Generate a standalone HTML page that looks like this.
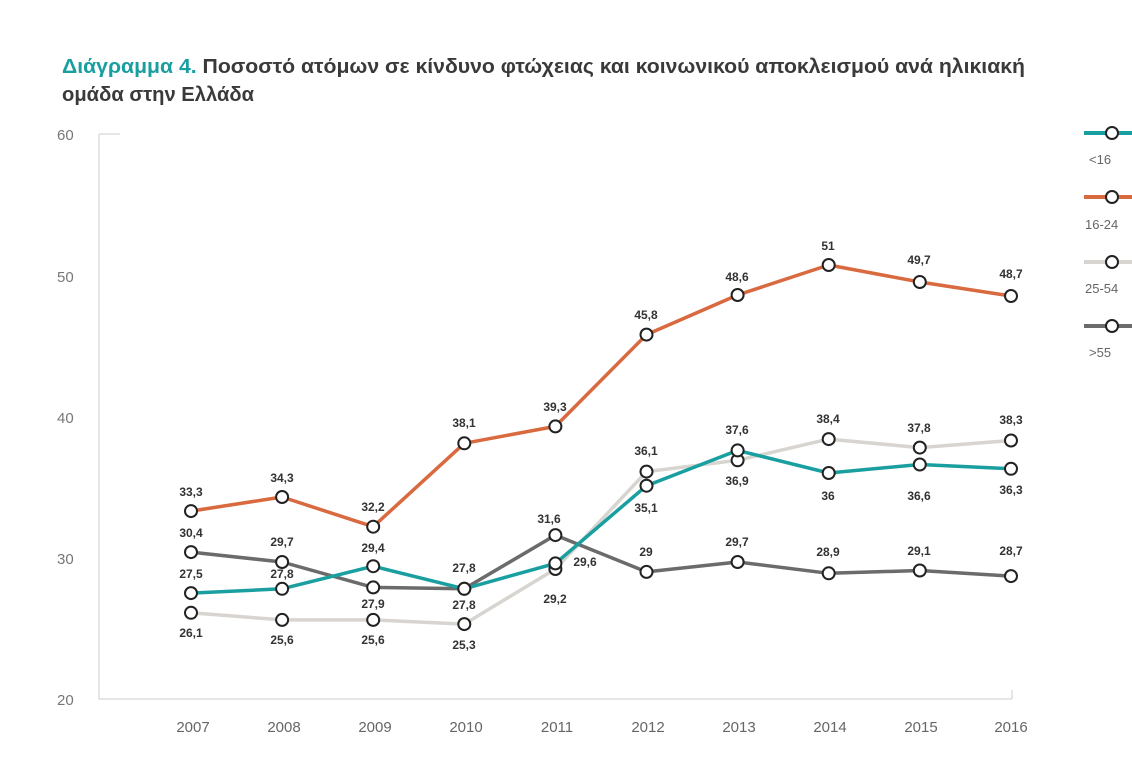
<!DOCTYPE html><html><head><meta charset="utf-8"><style>body{margin:0;background:#fff}svg{display:block}</style></head><body>
<svg width="1132" height="767" xmlns="http://www.w3.org/2000/svg" font-family="Liberation Sans, DejaVu Sans, sans-serif">
<text x="62" y="73" font-size="20" font-weight="bold" fill="#3a3a3a" textLength="963" lengthAdjust="spacingAndGlyphs"><tspan fill="#1a9fa0">Διάγραμμα 4.</tspan> Ποσοστό ατόμων σε κίνδυνο φτώχειας και κοινωνικού αποκλεισμού ανά ηλικιακή</text>
<text x="62" y="101" font-size="20" font-weight="bold" fill="#3a3a3a" textLength="192" lengthAdjust="spacingAndGlyphs">ομάδα στην Ελλάδα</text>
<g stroke="#ccc" stroke-width="1" fill="none"><path d="M99 134V699H1012M99 134H120M1012 699V690"/></g>
<g font-size="15" fill="#777"><text x="57" y="140">60</text><text x="57" y="282">50</text><text x="57" y="423">40</text><text x="57" y="564">30</text><text x="57" y="705">20</text></g>
<g font-size="15" fill="#666" text-anchor="middle"><text x="193" y="732">2007</text><text x="284" y="732">2008</text><text x="375" y="732">2009</text><text x="466" y="732">2010</text><text x="557" y="732">2011</text><text x="648" y="732">2012</text><text x="739" y="732">2013</text><text x="830" y="732">2014</text><text x="921" y="732">2015</text><text x="1011" y="732">2016</text></g>
<g fill="none" stroke-width="3.5" stroke-linejoin="round">
<polyline stroke="#d8d4d0" points="191,612.8 282.1,619.9 373.2,619.9 464.3,624.1 555.4,569 646.5,471.6 737.6,460.3 828.7,439.1 919.8,447.6 1011,440.5"/>
<polyline stroke="#6b6b6b" points="191,552.1 282.1,562 373.2,587.4 464.3,588.8 555.4,535.1 646.5,571.9 737.6,562 828.7,573.3 919.8,570.5 1011,576.1"/>
<polyline stroke="#1a9fa0" points="191,593.1 282.1,588.8 373.2,566.2 464.3,588.8 555.4,563.4 646.5,485.7 737.6,450.4 828.7,473 919.8,464.5 1011,468.8"/>
<polyline stroke="#d9693f" points="191,511.1 282.1,497 373.2,526.7 464.3,443.3 555.4,426.4 646.5,334.6 737.6,295 828.7,265 919.8,282 1011,296"/>
</g>
<g fill="#fff" stroke="#222" stroke-width="2">
<circle cx="191" cy="612.8" r="6"/><circle cx="282.1" cy="619.9" r="6"/><circle cx="373.2" cy="619.9" r="6"/><circle cx="464.3" cy="624.1" r="6"/><circle cx="555.4" cy="569" r="6"/><circle cx="646.5" cy="471.6" r="6"/><circle cx="737.6" cy="460.3" r="6"/><circle cx="828.7" cy="439.1" r="6"/><circle cx="919.8" cy="447.6" r="6"/><circle cx="1011" cy="440.5" r="6"/>
<circle cx="191" cy="552.1" r="6"/><circle cx="282.1" cy="562" r="6"/><circle cx="373.2" cy="587.4" r="6"/><circle cx="464.3" cy="588.8" r="6"/><circle cx="555.4" cy="535.1" r="6"/><circle cx="646.5" cy="571.9" r="6"/><circle cx="737.6" cy="562" r="6"/><circle cx="828.7" cy="573.3" r="6"/><circle cx="919.8" cy="570.5" r="6"/><circle cx="1011" cy="576.1" r="6"/>
<circle cx="191" cy="593.1" r="6"/><circle cx="282.1" cy="588.8" r="6"/><circle cx="373.2" cy="566.2" r="6"/><circle cx="464.3" cy="588.8" r="6"/><circle cx="555.4" cy="563.4" r="6"/><circle cx="646.5" cy="485.7" r="6"/><circle cx="737.6" cy="450.4" r="6"/><circle cx="828.7" cy="473" r="6"/><circle cx="919.8" cy="464.5" r="6"/><circle cx="1011" cy="468.8" r="6"/>
<circle cx="191" cy="511.1" r="6"/><circle cx="282.1" cy="497" r="6"/><circle cx="373.2" cy="526.7" r="6"/><circle cx="464.3" cy="443.3" r="6"/><circle cx="555.4" cy="426.4" r="6"/><circle cx="646.5" cy="334.6" r="6"/><circle cx="737.6" cy="295" r="6"/><circle cx="828.7" cy="265" r="6"/><circle cx="919.8" cy="282" r="6"/><circle cx="1011" cy="296" r="6"/>
</g>
<g font-size="12" font-weight="bold" fill="#333" text-anchor="middle">
<text x="191" y="496">33,3</text><text x="191" y="537">30,4</text><text x="191" y="578">27,5</text><text x="191" y="637">26,1</text>
<text x="282" y="482">34,3</text><text x="282" y="546">29,7</text><text x="282" y="578">27,8</text><text x="282" y="644">25,6</text>
<text x="373" y="511">32,2</text><text x="373" y="552">29,4</text><text x="373" y="608">27,9</text><text x="373" y="644">25,6</text>
<text x="464" y="427">38,1</text><text x="464" y="572">27,8</text><text x="464" y="609">27,8</text><text x="464" y="649">25,3</text>
<text x="555" y="411">39,3</text><text x="549" y="523">31,6</text><text x="585" y="566">29,6</text><text x="555" y="603">29,2</text>
<text x="646" y="319">45,8</text><text x="646" y="455">36,1</text><text x="646" y="512">35,1</text><text x="646" y="556">29</text>
<text x="737" y="281">48,6</text><text x="737" y="434">37,6</text><text x="737" y="485">36,9</text><text x="737" y="546">29,7</text>
<text x="828" y="250">51</text><text x="828" y="423">38,4</text><text x="828" y="500">36</text><text x="828" y="556">28,9</text>
<text x="919" y="264">49,7</text><text x="919" y="432">37,8</text><text x="919" y="500">36,6</text><text x="919" y="555">29,1</text>
<text x="1011" y="278">48,7</text><text x="1011" y="424">38,3</text><text x="1011" y="494">36,3</text><text x="1011" y="555">28,7</text>
</g>
<g stroke-width="4"><path stroke="#1a9fa0" d="M1084 133H1132"/><path stroke="#d9693f" d="M1084 197H1132"/><path stroke="#d8d4d0" d="M1084 262H1132"/><path stroke="#6b6b6b" d="M1084 326H1132"/></g>
<g fill="#fff" stroke="#222" stroke-width="2"><circle cx="1112" cy="133" r="6"/><circle cx="1112" cy="197" r="6"/><circle cx="1112" cy="262" r="6"/><circle cx="1112" cy="326" r="6"/></g>
<g font-size="13" fill="#666"><text x="1089" y="164">&lt;16</text><text x="1085" y="229">16-24</text><text x="1085" y="293">25-54</text><text x="1089" y="357">&gt;55</text></g>
</svg></body></html>
